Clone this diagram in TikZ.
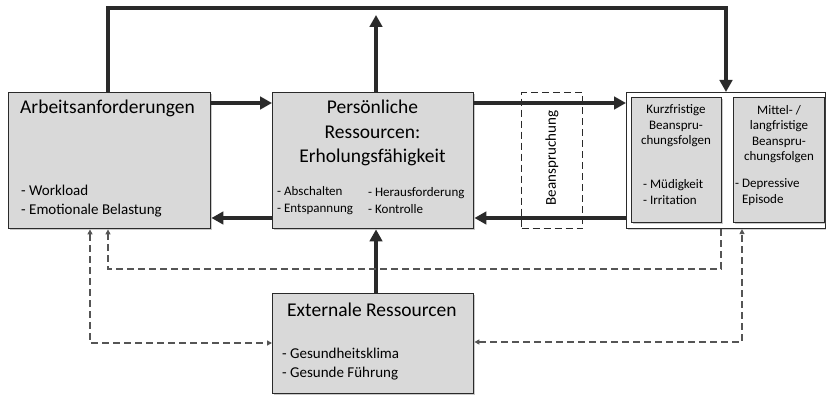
\documentclass[tikz,border=0pt]{standalone}
\usepackage{fontspec}
\setmainfont{Carlito}
\usetikzlibrary{arrows.meta,shadows}
\definecolor{boxgray}{HTML}{D9D9D9}
\definecolor{ink}{HTML}{2A2A2A}
\definecolor{dashink}{HTML}{555555}
\tikzset{
  box/.style={draw=ink, line width=1.4pt, fill=boxgray, inner sep=0pt, anchor=north west,
    drop shadow={shadow xshift=1.5pt, shadow yshift=-1.5pt, opacity=0.35, fill=black!60}},
  frame/.style={draw=ink, line width=1.1pt, fill=white, inner sep=0pt, anchor=north west,
    drop shadow={shadow xshift=1.5pt, shadow yshift=-1.5pt, opacity=0.3, fill=black!60}},
  dashframe/.style={draw=ink, line width=1.2pt, dash pattern=on 7pt off 4pt, fill=white, inner sep=0pt, anchor=north west},
  bigarrow/.style={draw=ink, line width=3.5pt, -{Triangle[length=12pt,width=12.5pt]}},
  dasharrow/.style={draw=dashink, line width=1.3pt, dash pattern=on 7pt off 4pt, {Triangle[length=5pt,width=5pt]}-{Triangle[length=5pt,width=5pt]}},
  dashoneway/.style={draw=dashink, line width=1.3pt, dash pattern=on 7pt off 4pt, -{Triangle[length=5pt,width=5pt]}},
  title/.style={font=\fontsize{19.5}{24.5}\selectfont, text=black, inner sep=0pt},
  item/.style={font=\fontsize{15}{19}\selectfont, text=black, inner sep=0pt, anchor=west, align=left},
  small/.style={font=\fontsize{13}{15.5}\selectfont, text=black, inner sep=0pt},
}
\begin{document}
\begin{tikzpicture}[x=1pt,y=-1pt]
\useasboundingbox (0,0) rectangle (826,395);
\fill[white] (0,0) rectangle (826,395);

% main boxes
\node[box, minimum width=202pt, minimum height=136pt] (A) at (8,92) {};
\node[box, minimum width=201pt, minimum height=136pt] (P) at (272,92) {};
\node[box, minimum width=201pt, minimum height=100pt] (E) at (272,293) {};
\node[dashframe, minimum width=61pt, minimum height=136pt] (B) at (521,92) {};
\node[frame, minimum width=199pt, minimum height=136pt] (O) at (626,92) {};
\node[box, minimum width=90pt, minimum height=125pt, line width=1.1pt] (K) at (631,97) {};
\node[box, minimum width=91pt, minimum height=125pt, line width=1.1pt] (M) at (733,97) {};

% texts
\node[title, anchor=west] (At) at (20,108) {Arbeitsanforderungen};
\node[item] (Ai) at (21,201) {- Workload\\- Emotionale Belastung};

\node[title, align=center] (Pt) at (372.5,133) {Persönliche\\Ressourcen:\\Erholungsfähigkeit};
\node[small, anchor=west, align=left, font=\fontsize{13}{17.5}\selectfont] (Pa) at (277,200.5) {- Abschalten\\- Entspannung};
\node[small, anchor=west, align=left, font=\fontsize{13}{17.5}\selectfont] (Pb) at (368,200.5) {- Herausforderung\\- Kontrolle};

\node[small, rotate=90, font=\fontsize{15}{18}\selectfont] (Bt) at (552,158) {Beanspruchung};

\node[small, align=center] (Kt) at (676,126) {Kurzfristige\\Beanspru-\\chungsfolgen};
\node[small, anchor=west, align=left, font=\fontsize{13}{16}\selectfont] (Ki) at (643,192) {- Müdigkeit\\- Irritation};

\node[small, align=center] (Mt) at (779,134) {Mittel- /\\langfristige\\Beanspru-\\chungsfolgen};
\node[small, anchor=west, align=left, font=\fontsize{13}{16}\selectfont] (Mi) at (735,192) {- Depressive\\\hphantom{- }Episode};

\node[title, anchor=west] (Et) at (287,310) {Externale Ressourcen};
\node[item, font=\fontsize{15}{19}\selectfont] (Ei) at (282,364.5) {- Gesundheitsklima\\- Gesunde Führung};

% helper coordinates for the connector routes
\coordinate (tl) at (108,8);
\coordinate (tr) at (726,8);
\coordinate (pt) at (376,15);
\coordinate (r1) at (0,103);
\coordinate (r2) at (0,218);
\coordinate (d1a) at (721,269);
\coordinate (d1b) at (108,269);
\coordinate (d2) at (742,342);
\coordinate (d3) at (90,343);

% solid connectors
\draw[bigarrow] (A.north -| tl) -- (tl) -- (tr) -- (O.north -| tr);
\draw[bigarrow] (P.north -| pt) -- (pt);
\draw[bigarrow] (A.east |- r1) -- (P.west |- r1);
\draw[bigarrow] (P.east |- r1) -- (O.west |- r1);
\draw[bigarrow] (O.west |- r2) -- (P.east |- r2);
\draw[bigarrow] (P.west |- r2) -- (A.east |- r2);
\draw[bigarrow] (E.north -| pt) -- (P.south -| pt);

% dashed connectors
\draw[dashoneway] (O.south -| d1a) -- (d1a) -- (d1b) -- (A.south -| d1b);
\draw[dasharrow] (E.east |- d2) -- (d2) -- (O.south -| d2);
\draw[dasharrow] (A.south -| d3) -- (d3) -- (E.west |- d3);
\end{tikzpicture}
\end{document}
